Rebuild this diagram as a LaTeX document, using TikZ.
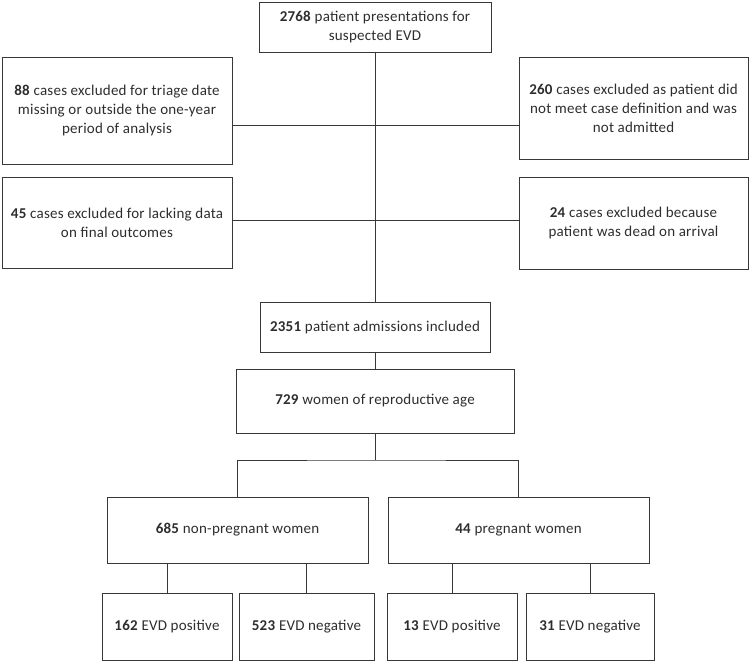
\documentclass[tikz,border=0pt]{standalone}
\usepackage{fontspec}
\setmainfont[LetterSpace=1.5]{Carlito}
\begin{document}
\begin{tikzpicture}[x=1pt,y=-1pt,
  box/.style={draw=black!78, line width=0.9pt, align=center, inner sep=0pt,
    font=\fontsize{15}{19}\selectfont, text=black!82},
  link/.style={draw=black!78, line width=0.9pt}]
\useasboundingbox[fill=white] (0,0) rectangle (750,662);
% boxes
\node[box, minimum width=232, minimum height=50] (top) at (375,27) {\textbf{2768} patient presentations for\\suspected EVD};
\node[box, minimum width=230, minimum height=107] (ex1) at (117,110.5) {\textbf{88} cases excluded for triage date\\missing or outside the one-year\\period of analysis};
\node[box, minimum width=229, minimum height=102] (ex2) at (633.5,108) {\textbf{260} cases excluded as patient did\\not meet case definition and was\\not admitted};
\node[box, minimum width=230, minimum height=91] (ex3) at (117,222.5) {\textbf{45} cases excluded for lacking data\\on final outcomes};
\node[box, minimum width=229, minimum height=92] (ex4) at (633.5,223) {\textbf{24} cases excluded because\\patient was dead on arrival};
\node[box, minimum width=230, minimum height=50] (adm) at (375,327) {\textbf{2351} patient admissions included};
\node[box, minimum width=278, minimum height=64] (wom) at (375,401) {\textbf{729} women of reproductive age};
\node[box, minimum width=261, minimum height=66] (np) at (237.5,530) {\textbf{685} non-pregnant women};
\node[box, minimum width=261, minimum height=66] (pg) at (518.5,530) {\textbf{44} pregnant women};
\node[box, minimum width=130, minimum height=67] (a) at (167,626.5) {\textbf{162} EVD positive};
\node[box, minimum width=135, minimum height=67] (b) at (306.5,626.5) {\textbf{523} EVD negative};
\node[box, minimum width=130, minimum height=67] (c) at (452,626.5) {\textbf{13} EVD positive};
\node[box, minimum width=128, minimum height=67] (d) at (590,626.5) {\textbf{31} EVD negative};
% junctions
\coordinate (j1) at (375,125);
\coordinate (j2) at (375,220);
\coordinate (br) at (375,460);
% connectors
\draw[link] (top.south) -- (adm.north);
\draw[link] (ex1.east |- j1) -- (ex2.west |- j1);
\draw[link] (ex3.east |- j2) -- (ex4.west |- j2);
\draw[link] (adm.south) -- (wom.north);
\draw[link] (wom.south) -- (br);
\draw[link] (np.north) |- (br) -| (pg.north);
\draw[link] (np.south -| a.north) -- (a.north);
\draw[link] (np.south -| b.north) -- (b.north);
\draw[link] (pg.south -| c.north) -- (c.north);
\draw[link] (pg.south -| d.north) -- (d.north);
\end{tikzpicture}
\end{document}
